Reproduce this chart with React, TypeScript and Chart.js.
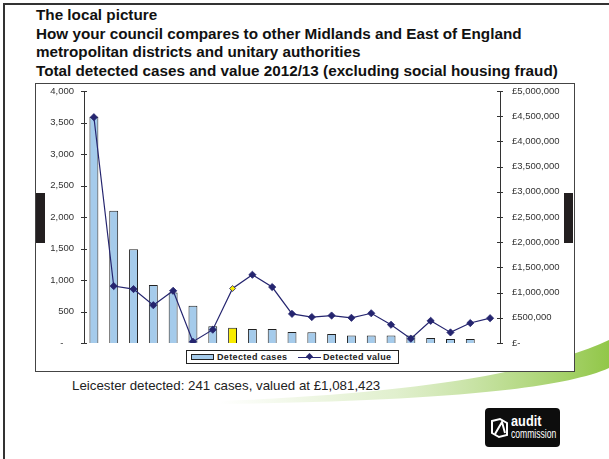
import React, { useEffect, useRef } from 'react';
import { Chart, registerables } from 'chart.js';

Chart.register(...registerables);

// ---- data ----
const authorities = [
  'Authority A', 'Authority B', 'Authority C', 'Authority D', 'Authority E', 'Authority F', 'Authority G',
  'Leicester', 'Authority I', 'Authority J', 'Authority K', 'Authority L', 'Authority M', 'Authority N',
  'Authority O', 'Authority P', 'Authority Q', 'Authority R', 'Authority S', 'Authority T', 'Authority U',
];
const detectedCases = [3590, 2100, 1490, 920, 800, 590, 265, 241, 222, 222, 175, 170, 143, 121, 121, 121, 121, 80, 63, 63, null];
const detectedValue = [4480000, 1130000, 1070000, 750000, 1036000, 25000, 264000, 1081423, 1354000, 1110000, 578000, 515000, 545000, 500000, 590000, 362000, 85000, 440000, 210000, 396000, 492000];
const highlightIndex = 7;
const casesAxis = { min: 0, max: 4000, step: 500 };
const valueAxis = { min: 0, max: 5000000, step: 500000 };
const legendLabels = ['Detected cases', 'Detected value'];
const titleLines = [
  'The local picture',
  'How your council compares to other Midlands and East of England',
  'metropolitan districts and unitary authorities',
  'Total detected cases and value 2012/13 (excluding social housing fraud)',
];
const caption = 'Leicester detected: 241 cases, valued at £1,081,423';

const BAR_BLUE = '#a5cbeb';
const BAR_YELLOW = '#f8ec00';
const NAVY = '#25256f';
const FONT = '"Liberation Sans", Arial, Helvetica, sans-serif';

const crossTicks = {
  id: 'crossTicks',
  afterDraw(chart: any) {
    const ctx = chart.ctx;
    ctx.save();
    ctx.strokeStyle = '#333';
    ctx.lineWidth = 1;
    ['y', 'y1'].forEach((id) => {
      const s = chart.scales[id];
      const x = id === 'y' ? s.right : s.left;
      s.ticks.forEach((t: any) => {
        const py = Math.round(s.getPixelForValue(t.value)) + 0.5;
        ctx.beginPath();
        ctx.moveTo(x - 3, py);
        ctx.lineTo(x + 3, py);
        ctx.stroke();
      });
    });
    ctx.restore();
  },
};

function fmtThousands(v: number) {
  return Math.round(v).toString().replace(/\B(?=(\d{3})+(?!\d))/g, ',');
}

function ChartBox() {
  const ref = useRef<HTMLCanvasElement>(null);
  useEffect(() => {
    if (!ref.current) return;
    const tickFont = { family: FONT, size: 9.5 };
    const chart = new Chart(ref.current, {
      type: 'bar',
      data: {
        labels: authorities,
        datasets: [
          {
            type: 'line',
            label: legendLabels[1],
            data: detectedValue,
            yAxisID: 'y1',
            borderColor: NAVY,
            borderWidth: 1.2,
            tension: 0,
            pointStyle: 'rectRot',
            pointRadius: detectedValue.map((_, i) => (i === highlightIndex ? 3 : 3.6)),
            pointBackgroundColor: detectedValue.map((_, i) => (i === highlightIndex ? BAR_YELLOW : NAVY)),
            pointBorderColor: NAVY,
            pointBorderWidth: 0.8,
            order: 0,
          } as any,
          {
            type: 'bar',
            label: legendLabels[0],
            data: detectedCases,
            yAxisID: 'y',
            backgroundColor: detectedCases.map((_, i) => (i === highlightIndex ? BAR_YELLOW : BAR_BLUE)),
            borderColor: '#222',
            borderWidth: 1,
            barPercentage: 0.45,
            categoryPercentage: 1,
            order: 1,
          } as any,
        ],
      },
      options: {
        responsive: false,
        animation: false,
        layout: { padding: { top: 7, bottom: 27, left: 0, right: 0 } },
        plugins: { legend: { display: false }, tooltip: { enabled: false } },
        scales: {
          x: { display: false, offset: true },
          y: {
            position: 'left',
            min: casesAxis.min,
            max: casesAxis.max,
            ticks: {
              stepSize: casesAxis.step,
              padding: 10,
              color: '#333',
              font: tickFont,
              callback: (v: any) => (Number(v) === 0 ? '-    ' : fmtThousands(Number(v))),
            },
            grid: { display: false, drawTicks: false },
            border: { display: true, color: '#333', width: 1 },
            afterFit: (s: any) => { s.width = 48; s.paddingTop = 6; s.paddingBottom = 6; },
          },
          y1: {
            position: 'right',
            min: valueAxis.min,
            max: valueAxis.max,
            ticks: {
              stepSize: valueAxis.step,
              padding: 12,
              color: '#333',
              font: tickFont,
              callback: (v: any) => (Number(v) === 0 ? '£-' : '£' + fmtThousands(Number(v))),
            },
            grid: { display: false, drawTicks: false },
            border: { display: true, color: '#333', width: 1 },
            afterFit: (s: any) => { s.width = 74; s.paddingTop = 6; s.paddingBottom = 6; },
          },
        },
      } as any,
      plugins: [crossTicks],
    });
    return () => chart.destroy();
  }, []);
  return <canvas ref={ref} width={538} height={286} style={{ display: 'block', width: 538, height: 286 }} />;
}

export default function App() {
  const abs = (o: any) => ({ position: 'absolute' as const, ...o });
  return (
    <div style={{ position: 'fixed', left: 0, top: 0, width: 609, height: 459, background: '#fff', overflow: 'hidden', fontFamily: FONT }}>
      {/* decorative swoosh */}
      <svg width={609} height={459} style={abs({ left: 0, top: 0 })}>
        <defs>
          <linearGradient id="sw" x1="220" y1="0" x2="609" y2="0" gradientUnits="userSpaceOnUse">
            <stop offset="0" stopColor="#9ccc5a" stopOpacity="0" />
            <stop offset="0.45" stopColor="#a9d374" stopOpacity="0.35" />
            <stop offset="1" stopColor="#8cc43f" stopOpacity="0.95" />
          </linearGradient>
        </defs>
        <path d="M 609 340 C 540 372, 420 393, 220 401 L 220 404 C 430 401, 560 390, 609 368 Z" fill="url(#sw)" />
      </svg>
      {/* slide frame */}
      <div style={abs({ left: 3, top: 3, width: 606, height: 2, background: '#333' })} />
      <div style={abs({ left: 3, top: 3, width: 2, height: 456, background: '#333' })} />
      {/* titles */}
      <div style={abs({ left: 36, top: 6, fontWeight: 'bold', fontSize: 15.25, lineHeight: '18.7px', color: '#111', whiteSpace: 'nowrap' })}>
        {titleLines.map((t) => (
          <div key={t}>{t}</div>
        ))}
      </div>
      {/* chart box */}
      <div style={abs({ left: 35, top: 83, width: 540, height: 289, boxSizing: 'border-box', border: '1px solid #444', background: '#fff' })}>
        <ChartBox />
      </div>
      {/* legend */}
      <div style={abs({ left: 186, top: 350, width: 213, height: 14, boxSizing: 'border-box', border: '1px solid #222', background: '#fff', fontSize: 9, fontWeight: 'bold', letterSpacing: 0.35, color: '#222' })}>
        <div style={abs({ left: 4, top: 3, width: 23, height: 6, boxSizing: 'border-box', border: '1px solid #222', background: BAR_BLUE })} />
        <div style={abs({ left: 30, top: 0, lineHeight: '12px' })}>{legendLabels[0]}</div>
        <div style={abs({ left: 111, top: 5.5, width: 23, height: 1.2, background: NAVY })} />
        <div style={abs({ left: 119.5, top: 3, width: 5, height: 5, background: NAVY, transform: 'rotate(45deg)' })} />
        <div style={abs({ left: 136, top: 0, lineHeight: '12px' })}>{legendLabels[1]}</div>
      </div>
      {/* black side markers */}
      <div style={abs({ left: 36, top: 193, width: 9, height: 50, background: '#231f20' })} />
      <div style={abs({ left: 564, top: 193, width: 9, height: 50, background: '#231f20' })} />
      {/* caption */}
      <div style={abs({ left: 72, top: 378, fontSize: 13.3, color: '#222', whiteSpace: 'nowrap' })}>{caption}</div>
      {/* logo */}
      <div style={abs({ left: 485, top: 408, width: 75, height: 39, background: '#0d0d0d', borderRadius: 4 })}>
        <svg width={20} height={22} style={abs({ left: 5, top: 9 })}>
          <path d="M2 4 L10 2 L17 6 L17 18 L9 20 L2 16 Z" fill="none" stroke="#fff" strokeWidth="2" />
          <path d="M5 17 L12 5 L15 16" fill="none" stroke="#fff" strokeWidth="2" />
        </svg>
        <div style={abs({ left: 26, top: 5, color: '#fff', fontWeight: 'bold', fontSize: 15, lineHeight: '15px', transform: 'scaleX(0.85)', transformOrigin: 'left' })}>audit</div>
        <div style={abs({ left: 26, top: 19, color: '#fff', fontSize: 13, lineHeight: '14px', transform: 'scaleX(0.66)', transformOrigin: 'left' })}>commission</div>
      </div>
    </div>
  );
}
